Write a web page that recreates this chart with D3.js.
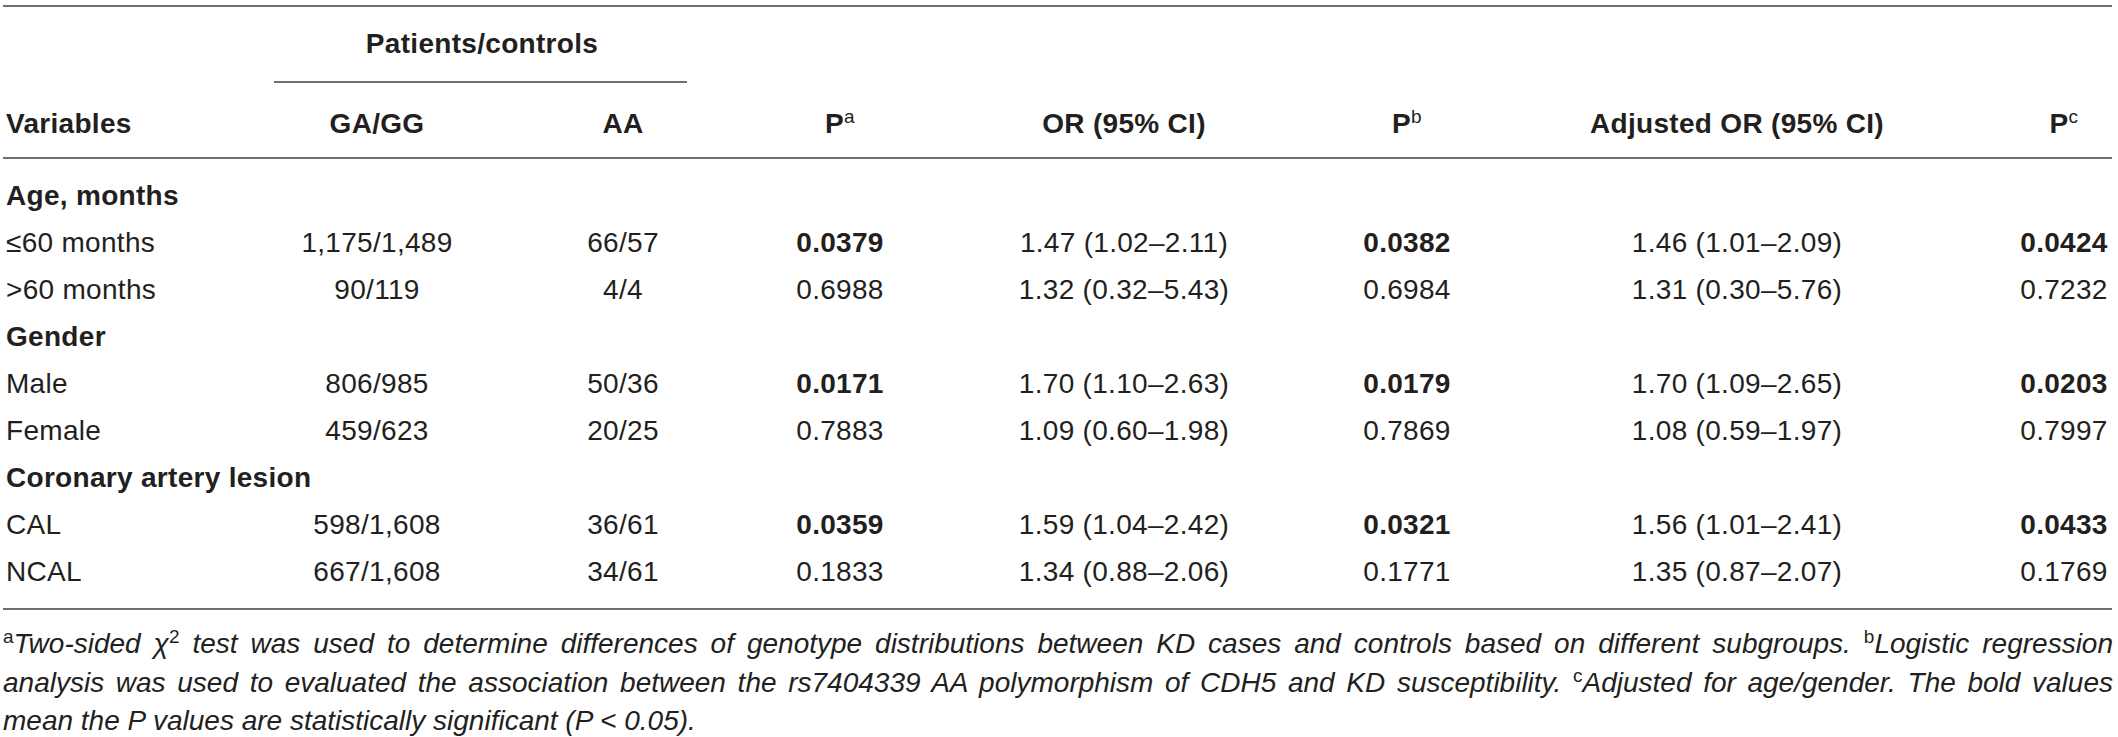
<!DOCTYPE html>
<html>
<head>
<meta charset="utf-8">
<script src="https://cdn.jsdelivr.net/npm/d3@7/dist/d3.min.js"></script>
<style>
  body { margin: 0; background: #fff; }
  svg { display: block; }
  text { font-family: "Liberation Sans", Arial, Helvetica, sans-serif; fill: #231f20; letter-spacing: 0.3px; }
</style>
</head>
<body>
<div id="table"></div>
<script>
// Table content
const headerLabels = ["Variables", "GA/GG", "AA", "P", "OR (95% CI)", "P", "Adjusted OR (95% CI)", "P"];
const headerSups = ["", "", "", "a", "", "b", "", "c"];
const spanLabel = "Patients/controls";

const variables = ["Age, months", "\u226460 months", ">60 months", "Gender", "Male", "Female",
  "Coronary artery lesion", "CAL", "NCAL"];
const groupRows = ["Age, months", "Gender", "Coronary artery lesion"];

const gaGG = ["", "1,175/1,489", "90/119", "", "806/985", "459/623", "", "598/1,608", "667/1,608"];
const aa = ["", "66/57", "4/4", "", "50/36", "20/25", "", "36/61", "34/61"];
const pA = ["", "0.0379", "0.6988", "", "0.0171", "0.7883", "", "0.0359", "0.1833"];
const orCI = ["", "1.47 (1.02\u20132.11)", "1.32 (0.32\u20135.43)", "", "1.70 (1.10\u20132.63)",
  "1.09 (0.60\u20131.98)", "", "1.59 (1.04\u20132.42)", "1.34 (0.88\u20132.06)"];
const pB = ["", "0.0382", "0.6984", "", "0.0179", "0.7869", "", "0.0321", "0.1771"];
const adjOR = ["", "1.46 (1.01\u20132.09)", "1.31 (0.30\u20135.76)", "", "1.70 (1.09\u20132.65)",
  "1.08 (0.59\u20131.97)", "", "1.56 (1.01\u20132.41)", "1.35 (0.87\u20132.07)"];
const pC = ["", "0.0424", "0.7232", "", "0.0203", "0.7997", "", "0.0433", "0.1769"];

// footnote lines: [text, kind] with kind "sup" or "it"
const footnotes = [
  [["a", "sup"], ["Two-sided \u03c7", "it"], ["2", "sup"],
   [" test was used to determine differences of genotype distributions between KD cases and controls based on different subgroups. ", "it"],
   ["b", "sup"], ["Logistic regression", "it"]],
  [["analysis was used to evaluated the association between the rs7404339 AA polymorphism of CDH5 and KD susceptibility. ", "it"],
   ["c", "sup"], ["Adjusted for age/gender. The bold values", "it"]],
  [["mean the P values are statistically significant (P < 0.05).", "it"]]
];
const justified = [true, true, false];

const width = 2118, height = 737;
const fontSize = 28;
const lineColor = "#6f6f6f";

const svg = d3.select("#table").append("svg")
  .attr("width", width)
  .attr("height", height);

// column centres
const columns = ["var", "gaGG", "aa", "pA", "orCI", "pB", "adjOR", "pC"];
const colX = d3.scaleOrdinal()
  .domain(columns)
  .range([6, 377, 623, 840, 1124, 1407, 1737, 2064]);

const bodyColumns = [gaGG, aa, pA, orCI, pB, adjOR, pC];
const pColumns = [pA, pB, pC];

// row positions
const rowY = d3.scaleLinear().domain([0, variables.length - 1]).range([195, 571]);

// horizontal rules
const rules = [
  { x1: 3, x2: 2112, y: 6 },
  { x1: 274, x2: 687, y: 82 },
  { x1: 3, x2: 2112, y: 158 },
  { x1: 3, x2: 2112, y: 609 }
];
svg.selectAll("line.rule")
  .data(rules)
  .join("line")
  .attr("class", "rule")
  .attr("x1", d => d.x1)
  .attr("x2", d => d.x2)
  .attr("y1", d => d.y)
  .attr("y2", d => d.y)
  .attr("stroke", lineColor)
  .attr("stroke-width", 2);

// spanning header
svg.append("text")
  .attr("x", 482)
  .attr("y", 43)
  .attr("dy", "0.35em")
  .attr("text-anchor", "middle")
  .attr("font-size", fontSize)
  .attr("font-weight", "bold")
  .text(spanLabel);

// header row
const header = svg.selectAll("text.header")
  .data(headerLabels)
  .join("text")
  .attr("class", "header")
  .attr("x", (d, i) => colX(columns[i]))
  .attr("y", 123)
  .attr("dy", "0.35em")
  .attr("text-anchor", (d, i) => i === 0 ? "start" : "middle")
  .attr("font-size", fontSize)
  .attr("font-weight", "bold");
header.append("tspan").text(d => d);
header.append("tspan")
  .attr("font-size", 19)
  .attr("font-weight", "normal")
  .attr("dy", -10)
  .text((d, i) => headerSups[i]);

// row labels
svg.selectAll("text.label")
  .data(variables)
  .join("text")
  .attr("class", "label")
  .attr("x", colX("var"))
  .attr("y", (d, i) => rowY(i))
  .attr("dy", "0.35em")
  .attr("font-size", fontSize)
  .attr("font-weight", d => groupRows.includes(d) ? "bold" : "normal")
  .text(d => d);

// body cells
bodyColumns.forEach((values, c) => {
  const isP = pColumns.includes(values);
  svg.selectAll("text.col" + c)
    .data(values)
    .join("text")
    .attr("class", "col" + c)
    .attr("x", colX(columns[c + 1]))
    .attr("y", (d, i) => rowY(i))
    .attr("dy", "0.35em")
    .attr("text-anchor", "middle")
    .attr("font-size", fontSize)
    .attr("font-weight", d => isP && d !== "" && +d < 0.05 ? "bold" : "normal")
    .text(d => d);
});

// footnotes
const noteY = [643, 682, 720];
const noteWidth = 2110;
footnotes.forEach((segments, li) => {
  const t = svg.append("text")
    .attr("x", 3)
    .attr("y", noteY[li])
    .attr("dy", "0.35em")
    .attr("font-size", fontSize)
    .style("letter-spacing", "0px");
  segments.forEach(([txt, kind]) => {
    const s = t.append("tspan").text(txt);
    if (kind === "sup") {
      s.attr("font-size", 19).attr("baseline-shift", "super");
    } else {
      s.attr("font-style", "italic");
    }
  });
  if (justified[li]) {
    const natural = t.node().getComputedTextLength();
    const spaces = segments.map(s => s[0]).join("").split(" ").length - 1;
    t.attr("word-spacing", (noteWidth - natural) / spaces);
  }
});
</script>
</body>
</html>
